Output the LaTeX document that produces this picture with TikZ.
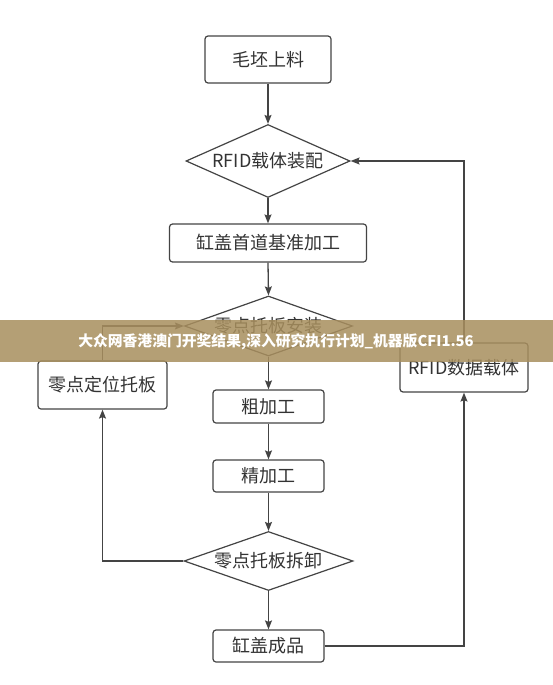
\documentclass[tikz,border=0pt]{standalone}
\usepackage{fontspec}
\newfontfamily\cjk{Noto Sans CJK SC}
\usetikzlibrary{shapes.geometric,arrows.meta}
\definecolor{linec}{HTML}{444444}
\definecolor{textc}{HTML}{333333}
\definecolor{bandc}{HTML}{A88F5E}
\tikzset{
  boxnode/.style={draw=linec, line width=1.2pt, rounded corners=3pt, fill=white,
    inner sep=0pt, font=\cjk\fontsize{18}{20}\selectfont, text=textc},
  dianode/.style={diamond, draw=linec, line width=1.2pt, fill=white, inner sep=0pt,
    font=\cjk\fontsize{18}{20}\selectfont, text=textc},
  conn/.style={draw=linec, line width=1.3pt, -{Stealth[length=9pt,width=7pt,inset=1.5pt]}},
}
\begin{document}
\begin{tikzpicture}[x=1pt,y=-1pt]
\useasboundingbox (0,0) rectangle (553,685);
\fill[white] (0,0) rectangle (553,685);

\node[boxnode, minimum width=126pt, minimum height=47pt] (mp) at (268,59.5) {毛坯上料};
\node[dianode, aspect=2.25, minimum width=164pt, minimum height=73pt] (rfid) at (268,161) {RFID载体装配};
\node[boxnode, minimum width=197pt, minimum height=38pt] (sd) at (268,243) {缸盖首道基准加工};
\node[dianode, aspect=2.8, minimum width=168pt, minimum height=60pt] (az) at (268.5,326) {零点托板安装};
\node[boxnode, minimum width=111pt, minimum height=33pt] (cj) at (268.5,406.5) {粗加工};
\node[boxnode, minimum width=111pt, minimum height=32pt] (jj) at (268.5,476) {精加工};
\node[dianode, aspect=2.86, minimum width=169pt, minimum height=59pt] (cx) at (268.5,561) {零点托板拆卸};
\node[boxnode, minimum width=111pt, minimum height=32pt] (cp) at (268.5,646) {缸盖成品};
\node[boxnode, minimum width=129pt, minimum height=48pt] (dw) at (102.5,385) {零点定位托板};
\node[boxnode, minimum width=128pt, minimum height=49pt] (sj) at (464,367.5) {RFID数据载体};

\draw[conn] (mp.south) -- (rfid.north);
\draw[conn] (rfid.south) -- (sd.north);
\draw[conn] (sd.south) -- (az.north);
\draw[conn] (az.south) -- (cj.north);
\draw[conn] (cj.south) -- (jj.north);
\draw[conn] (jj.south) -- (cx.north);
\draw[conn] (cx.south) -- (cp.north);
\draw[conn] (cx.west) -| (dw.south);
\draw[conn] (dw.north) |- (az.west);
\draw[conn] (cp.east) -| (sj.south);
\draw[conn] (sj.north) |- (rfid.east);

\fill[bandc, opacity=0.85] (0,320) rectangle (553,362);
\node[font=\cjk\bfseries\fontsize{14.8}{16}\selectfont, text=white, inner sep=0pt] (wm) at (276,342) {大众网香港澳门开奖结果,深入研究执行计划\_机器版CFI1.56};
\end{tikzpicture}
\end{document}
